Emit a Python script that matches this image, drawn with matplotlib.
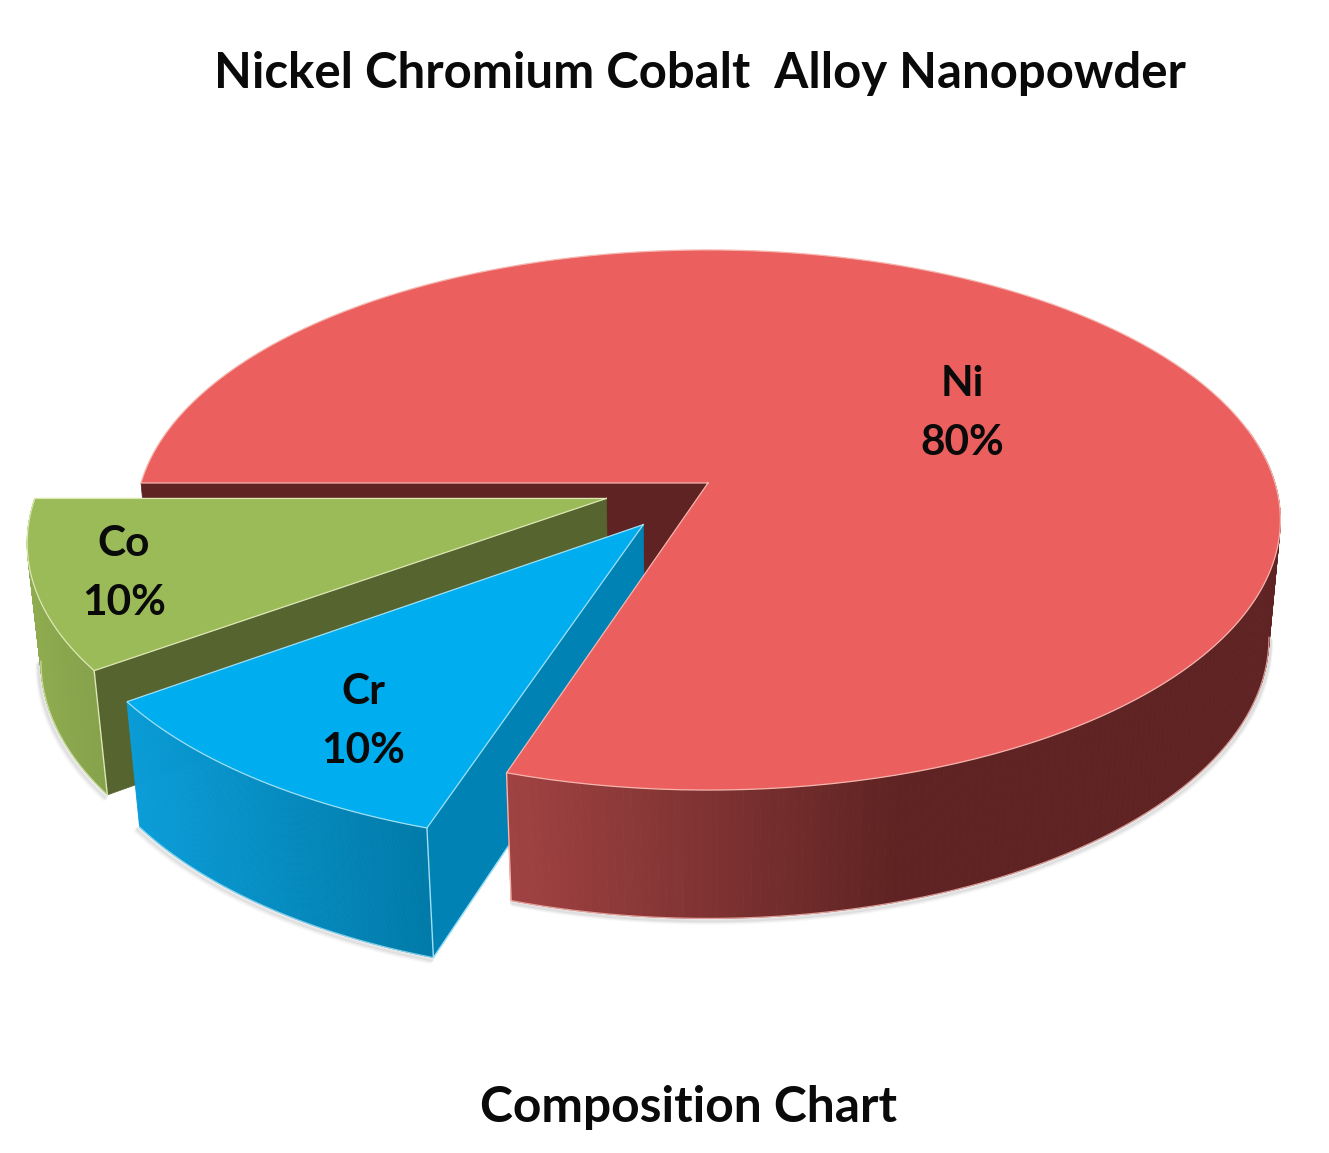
import numpy as np
import matplotlib
matplotlib.use("Agg")
import matplotlib.pyplot as plt
from matplotlib.patches import Polygon
from matplotlib.colors import to_rgb

# ---- chart data ----
title_text = "Nickel Chromium Cobalt  Alloy Nanopowder"
subtitle_text = "Composition Chart"
elements = ["Ni", "Co", "Cr"]
percent = [80, 10, 10]

# ---- styling / layout ----
first_angle = 252.0           # Ni starts here and slices run counter-clockwise
explode = [0.0, 0.187, 0.19]
top_color = ["#EB5F5F", "#9BBB59", "#00ADEF"]
wall_color = ["#5E2322", "#56652F", "#0082B5"]
side_left = ["#A04242", "#8FAC50", "#0A9DD8"]
side_right = ["#5E2322", "#86A24B", "#007AA8"]
rim_color = ["#F6B5AE", "#DDE8B5", "#9FE0F5"]
label_xy = [(962, 414), (124, 574), (363, 722)]

W, H = 1329, 1153
CX, CY, BX, AY, K = 708.0, 483.0, 567.0, 265.0, 0.137
DEPTH, M = 119.5, 0.02


def project(X, Y, z=0.0):
    X, Y = np.asarray(X, float), np.asarray(Y, float)
    w = 1 + K * Y + M * z
    return np.column_stack([CX + BX * X / w, CY - AY * Y / w + DEPTH * z / w])


def arc(a0, a1, off, n=200):
    t = np.radians(np.linspace(a0, a1, n))
    return np.cos(t) + off[0], np.sin(t) + off[1]


fig = plt.figure(figsize=(W / 100, H / 100), dpi=100, facecolor="white")
ax = fig.add_axes([0, 0, 1, 1])
ax.set_xlim(0, W)
ax.set_ylim(H, 0)
ax.axis("off")

# slice angles derive from the percentages
sweep = [p / sum(percent) * 360 for p in percent]
starts = np.cumsum([first_angle] + sweep[:-1])
spans = [(s, s + d) for s, d in zip(starts, sweep)]
offs = []
for (a0, a1), e in zip(spans, explode):
    mid = np.radians((a0 + a1) / 2)
    offs.append((e * np.cos(mid), e * np.sin(mid)))


def poly(pts, **kw):
    ax.add_patch(Polygon(pts, closed=True, **kw))


def edge_wall(i, angle, zo):
    ox, oy = offs[i]
    t = np.radians(angle)
    Xs, Ys = np.array([ox, ox + np.cos(t)]), np.array([oy, oy + np.sin(t)])
    top = project(Xs, Ys)
    bot = project(Xs, Ys, 1.0)
    poly(np.vstack([top, bot[::-1]]), fc=wall_color[i], ec=wall_color[i], lw=0.5, zorder=zo)
    return top, bot


def side(i, a0, a1, zo):
    X, Y = arc(a0, a1, offs[i], 160)
    top, bot = project(X, Y), project(X, Y, 1.0)
    c0, c1 = np.array(to_rgb(side_left[i])), np.array(to_rgb(side_right[i]))
    x0 = top[:, 0].min()
    span = (900 - x0) if i == 0 else (top[:, 0].max() - x0)
    # only the part of the lower arc that forms the silhouette gets a rim / shadow
    lo, hi = np.argmin(bot[:, 0]), np.argmax(bot[:, 0]) + 1
    vis = bot[lo:hi]
    for d, al in ((7, 0.05), (5, 0.07), (3, 0.1)):
        ax.plot(vis[:, 0] - d * 0.5 if i else vis[:, 0] + d * 0.3, vis[:, 1] + d * 0.6,
                color="#666666", alpha=al, lw=3, zorder=zo - 0.5, solid_capstyle="round")
    for j in range(len(X) - 1):
        f = np.clip((top[j, 0] - x0) / span, 0, 1)
        c = c0 + (c1 - c0) * f
        poly(np.vstack([top[j:j + 2], bot[j:j + 2][::-1]]), fc=c, ec=c, lw=0.6, zorder=zo)
    ax.plot(vis[:, 0], vis[:, 1], color=rim_color[i], lw=0.9, alpha=0.8, zorder=zo + 0.1)
    return top, bot


def top_face(i, zo):
    a0, a1 = spans[i]
    ox, oy = offs[i]
    X, Y = arc(a0, a1, offs[i], 300)
    ring = project(X, Y)
    apex = project([ox], [oy])
    pts = np.vstack([apex, ring])
    poly(pts, fc=top_color[i], ec="none", zorder=zo)
    ax.plot(*np.vstack([pts, apex]).T, color=rim_color[i], lw=0.9, zorder=zo + 0.1,
            solid_joinstyle="miter")


# Ni wall (back cut) lies behind the two exploded slices
a0, a1 = spans[0]
edge_wall(0, a1, 1)

# Co
a0, a1 = spans[1]
side(1, a0, a1, 2)
t, b = edge_wall(1, a1, 2.5)
ax.plot(*np.vstack([t[1], b[1]]).T, color=rim_color[1], lw=1.0, zorder=2.6)
top_face(1, 3)

# Cr
a0, a1 = spans[2]
side(2, a0, a1, 4)
t, b = edge_wall(2, a1, 4.5)
ax.plot(*np.vstack([t[1], b[1]]).T, color=rim_color[2], lw=1.0, zorder=4.6)
ax.plot(*np.vstack([b[0], b[1]]).T, color=rim_color[2], lw=1.0, zorder=4.6)
top_face(2, 5)

# Ni side + top sit in front of the Cr wall
a0, a1 = spans[0]
t, b = side(0, a0, 372, 6)
ax.plot(*np.vstack([t[0], b[0]]).T, color=rim_color[0], lw=1.0, zorder=6.2)
top_face(0, 7)

# text
font = ["Lato", "DejaVu Sans"]
for name, pct, (lx, ly) in zip(elements, percent, label_xy):
    ax.text(lx, ly - 30, name, ha="center", va="center", fontsize=30.5, fontweight="bold",
            family=font, color="#0a0a0a", zorder=10)
    ax.text(lx, ly + 29, f"{pct}%", ha="center", va="center", fontsize=30.5, fontweight="bold",
            family=font, color="#0a0a0a", zorder=10)
ax.text(700, 74, title_text, ha="center", va="center", fontsize=35.4, fontweight="bold",
        family=font, color="#0a0a0a")
ax.text(689, 1108, subtitle_text, ha="center", va="center", fontsize=35.8, fontweight="bold",
        family=font, color="#0a0a0a")

fig.savefig("out.png", dpi=100, facecolor="white")
